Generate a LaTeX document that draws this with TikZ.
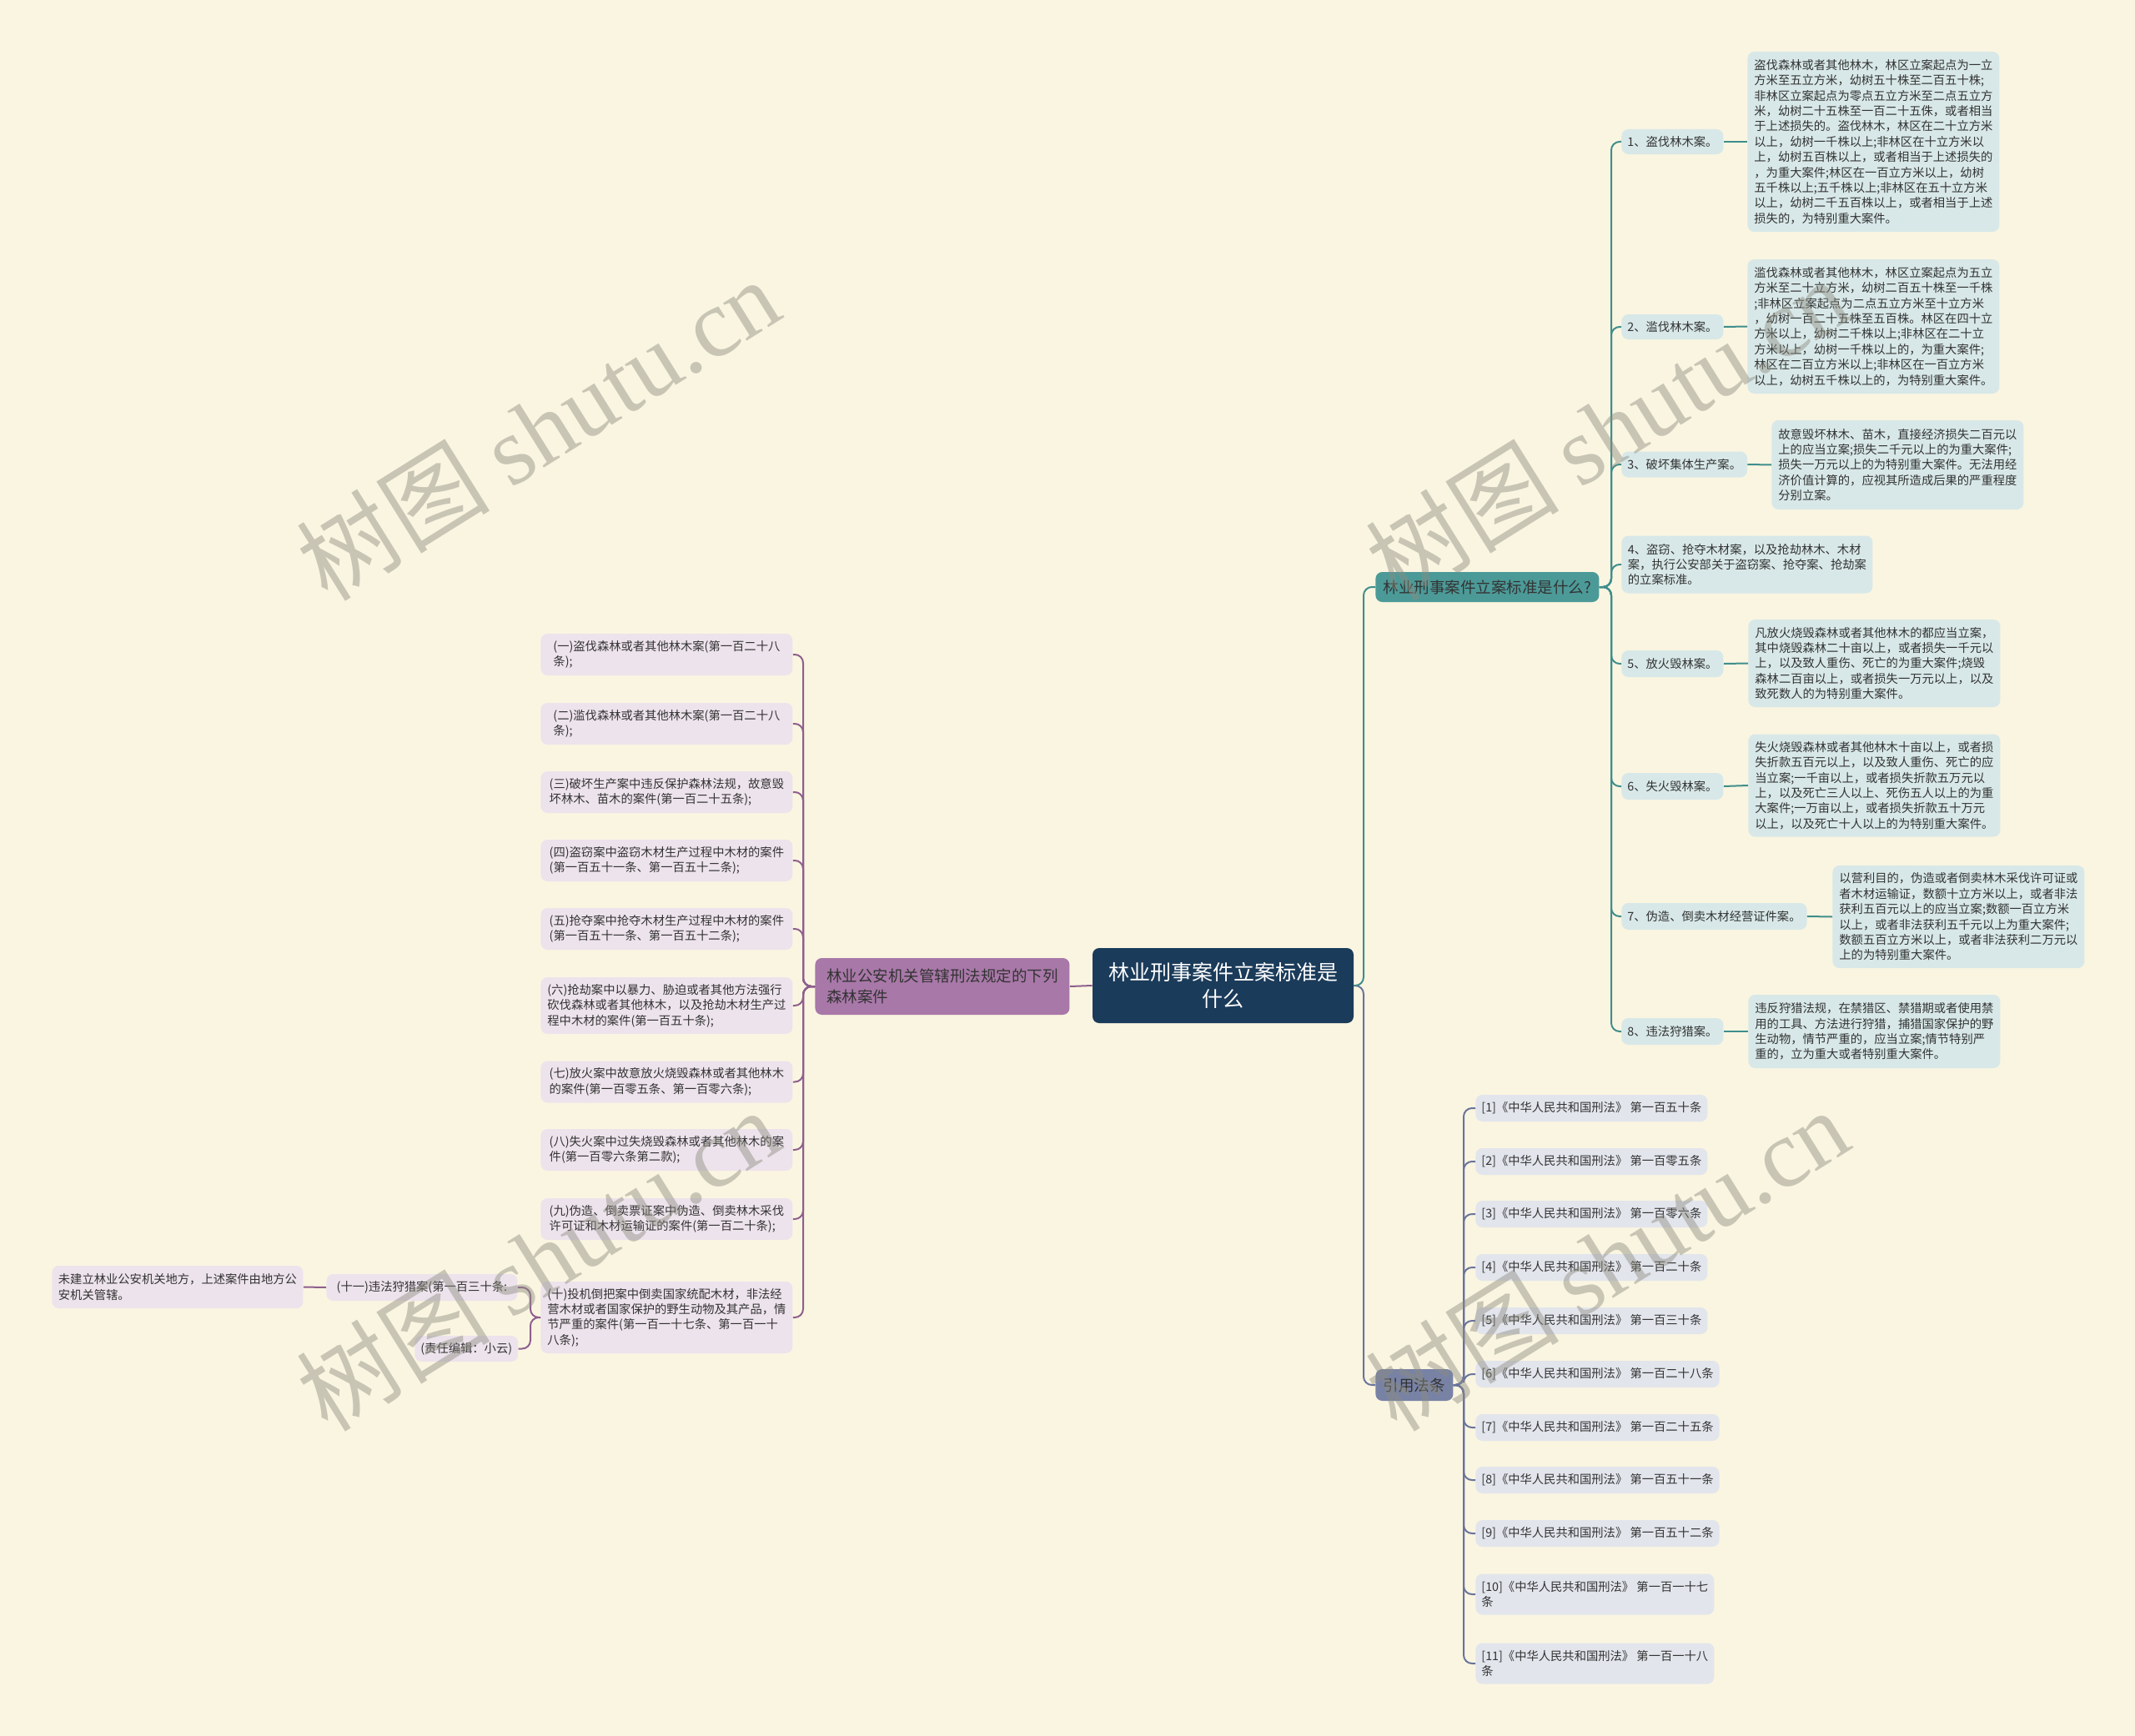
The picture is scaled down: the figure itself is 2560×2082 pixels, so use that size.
\documentclass[tikz,border=0pt]{standalone}
\usepackage{fontspec}
\setmainfont{Noto Sans CJK SC}
\newfontfamily\wmlatin{Liberation Serif}
\definecolor{bgc}{HTML}{FAF5E1}
\definecolor{navy}{HTML}{1B3B5A}
\definecolor{purpbox}{HTML}{A878A8}
\definecolor{tealbox}{HTML}{4C9A98}
\definecolor{slatebox}{HTML}{7882A5}
\definecolor{pleafc}{HTML}{EDE3EC}
\definecolor{tleafc}{HTML}{D8E8E8}
\definecolor{sleafc}{HTML}{E2E5EC}
\definecolor{plinec}{HTML}{8E5F8E}
\definecolor{tlinec}{HTML}{3F8E8C}
\definecolor{slinec}{HTML}{69749C}
\definecolor{txtc}{HTML}{333333}
\definecolor{wmc}{HTML}{8C8C80}
\tikzset{
 boxbase/.style={rounded corners=4pt, anchor=west, inner xsep=3.5pt, inner ysep=0pt, align=left, text=txtc, font=\fontsize{7.15pt}{9.2pt}\selectfont},
 pleaf/.style={boxbase, fill=pleafc},
 tleaf/.style={boxbase, fill=tleafc},
 sleaf/.style={boxbase, fill=sleafc},
 pline/.style={draw=plinec, line width=1pt, rounded corners=5pt},
 tline/.style={draw=tlinec, line width=1pt, rounded corners=5pt},
 sline/.style={draw=slinec, line width=1pt, rounded corners=5pt},
 wmark/.style={rotate=32, text=wmc, opacity=0.45, font=\fontsize{58pt}{60pt}\selectfont},
}
\begin{document}
\begin{tikzpicture}[x=0.5pt,y=-0.5pt]
\fill[bgc] (0,0) rectangle (2560,2082);
\useasboundingbox (0,0) rectangle (2560,2082);

% root
\node[fill=navy, rounded corners=4pt, text=white, align=center, minimum width=156.5pt, minimum height=45pt, inner sep=0pt, font=\fontsize{12.5pt}{16pt}\selectfont] (root) at (1466.5,1182) {林业刑事案件立案标准是\\什么};

% main branches
\node[boxbase, fill=purpbox, inner xsep=5pt, minimum width=152.5pt, minimum height=34pt, font=\fontsize{9.25pt}{12.5pt}\selectfont] (pb) at (977,1183) {林业公安机关管辖刑法规定的下列\\森林案件};
\node[boxbase, fill=tealbox, minimum width=134pt, minimum height=18pt, font=\fontsize{9.25pt}{11pt}\selectfont] (tb) at (1649,704) {林业刑事案件立案标准是什么?};
\node[boxbase, fill=slatebox, minimum width=46.5pt, minimum height=19pt, font=\fontsize{9.25pt}{11pt}\selectfont] (sb) at (1649,1661) {引用法条};

% right labels
\node[tleaf, minimum height=15pt] (l1) at (1944,170) {1、盗伐林木案。};
\node[tleaf, minimum height=15pt] (l2) at (1944,392) {2、滥伐林木案。};
\node[tleaf, minimum height=15.5pt] (l3) at (1944,557) {3、破坏集体生产案。};
\node[tleaf, minimum height=34.5pt, minimum width=150.5pt] (l4) at (1944,677) {4、盗窃、抢夺木材案，以及抢劫林木、木材\\案，执行公安部关于盗窃案、抢夺案、抢劫案\\的立案标准。};
\node[tleaf, minimum height=16pt] (l5) at (1944,796) {5、放火毁林案。};
\node[tleaf, minimum height=16pt] (l6) at (1944,943) {6、失火毁林案。};
\node[tleaf, minimum height=16pt] (l7) at (1944,1099) {7、伪造、倒卖木材经营证件案。};
\node[tleaf, minimum height=16pt] (l8) at (1944,1237) {8、违法狩猎案。};

% right details
\node[tleaf, minimum width=151pt, minimum height=108pt] (d1) at (2095,170) {盗伐森林或者其他林木，林区立案起点为一立\\方米至五立方米，幼树五十株至二百五十株;\\非林区立案起点为零点五立方米至二点五立方\\米，幼树二十五株至一百二十五侏，或者相当\\于上述损失的。盗伐林木，林区在二十立方米\\以上，幼树一千株以上;非林区在十立方米以\\上，幼树五百株以上，或者相当于上述损失的\\，为重大案件;林区在一百立方米以上，幼树\\五千株以上;五千株以上;非林区在五十立方米\\以上，幼树二千五百株以上，或者相当于上述\\损失的，为特别重大案件。};
\node[tleaf, minimum width=151pt, minimum height=80.5pt] (d2) at (2095,391.5) {滥伐森林或者其他林木，林区立案起点为五立\\方米至二十立方米，幼树二百五十株至一千株\\;非林区立案起点为二点五立方米至十立方米\\，幼树一百二十五株至五百株。林区在四十立\\方米以上，幼树二千株以上;非林区在二十立\\方米以上，幼树一千株以上的，为重大案件;\\林区在二百立方米以上;非林区在一百立方米\\以上，幼树五千株以上的，为特别重大案件。};
\node[tleaf, minimum width=151pt, minimum height=53.5pt] (d3) at (2124,557.5) {故意毁坏林木、苗木，直接经济损失二百元以\\上的应当立案;损失二千元以上的为重大案件;\\损失一万元以上的为特别重大案件。无法用经\\济价值计算的，应视其所造成后果的严重程度\\分别立案。};
\node[tleaf, minimum width=151pt, minimum height=52.5pt] (d5) at (2096,795.5) {凡放火烧毁森林或者其他林木的都应当立案，\\其中烧毁森林二十亩以上，或者损失一千元以\\上，以及致人重伤、死亡的为重大案件;烧毁\\森林二百亩以上，或者损失一万元以上，以及\\致死数人的为特别重大案件。};
\node[tleaf, minimum width=151pt, minimum height=61.5pt] (d6) at (2096,942) {失火烧毁森林或者其他林木十亩以上，或者损\\失折款五百元以上，以及致人重伤、死亡的应\\当立案;一千亩以上，或者损失折款五万元以\\上，以及死亡三人以上、死伤五人以上的为重\\大案件;一万亩以上，或者损失折款五十万元\\以上，以及死亡十人以上的为特别重大案件。};
\node[tleaf, minimum width=151pt, minimum height=61.5pt] (d7) at (2197,1099.5) {以营利目的，伪造或者倒卖林木采伐许可证或\\者木材运输证，数额十立方米以上，或者非法\\获利五百元以上的应当立案;数额一百立方米\\以上，或者非法获利五千元以上为重大案件;\\数额五百立方米以上，或者非法获利二万元以\\上的为特别重大案件。};
\node[tleaf, minimum width=151pt, minimum height=44pt] (d8) at (2096,1237) {违反狩猎法规，在禁猎区、禁猎期或者使用禁\\用的工具、方法进行狩猎，捕猎国家保护的野\\生动物，情节严重的，应当立案;情节特别严\\重的，立为重大或者特别重大案件。};

% left leaves
\node[pleaf, minimum width=151pt, minimum height=25pt] (p1) at (648,785) {(一)盗伐森林或者其他林木案(第一百二十八\\条);};
\node[pleaf, minimum width=151pt, minimum height=25pt] (p2) at (648,868) {(二)滥伐森林或者其他林木案(第一百二十八\\条);};
\node[pleaf, minimum width=151pt, minimum height=25pt] (p3) at (648,950) {(三)破坏生产案中违反保护森林法规，故意毁\\坏林木、苗木的案件(第一百二十五条);};
\node[pleaf, minimum width=151pt, minimum height=25pt] (p4) at (648,1032) {(四)盗窃案中盗窃木材生产过程中木材的案件\\(第一百五十一条、第一百五十二条);};
\node[pleaf, minimum width=151pt, minimum height=25pt] (p5) at (648,1114) {(五)抢夺案中抢夺木材生产过程中木材的案件\\(第一百五十一条、第一百五十二条);};
\node[pleaf, minimum width=151pt, minimum height=34pt] (p6) at (648,1206) {(六)抢劫案中以暴力、胁迫或者其他方法强行\\砍伐森林或者其他林木，以及抢劫木材生产过\\程中木材的案件(第一百五十条);};
\node[pleaf, minimum width=151pt, minimum height=25pt] (p7) at (648,1297.5) {(七)放火案中故意放火烧毁森林或者其他林木\\的案件(第一百零五条、第一百零六条);};
\node[pleaf, minimum width=151pt, minimum height=25pt] (p8) at (648,1379) {(八)失火案中过失烧毁森林或者其他林木的案\\件(第一百零六条第二款);};
\node[pleaf, minimum width=151pt, minimum height=25pt] (p9) at (648,1462) {(九)伪造、倒卖票证案中伪造、倒卖林木采伐\\许可证和木材运输证的案件(第一百二十条);};
\node[pleaf, minimum width=151pt, minimum height=43pt] (p10) at (648,1580) {(十)投机倒把案中倒卖国家统配木材，非法经\\营木材或者国家保护的野生动物及其产品，情\\节严重的案件(第一百一十七条、第一百一十\\八条);};
\node[pleaf, minimum width=114.5pt, minimum height=16pt] (p11) at (391,1544) {(十一)违法狩猎案(第一百三十条:};
\node[pleaf, minimum width=61.5pt, minimum height=15.5pt] (pe) at (497,1617.5) {(责任编辑：小云)};
\node[pleaf, minimum width=150.5pt, minimum height=25.5pt] (pw) at (62,1543.5) {未建立林业公安机关地方，上述案件由地方公\\安机关管辖。};

% references
\node[sleaf, minimum height=16pt] (r1) at (1769,1329) {[1]《中华人民共和国刑法》 第一百五十条};
\node[sleaf, minimum height=16pt] (r2) at (1769,1393) {[2]《中华人民共和国刑法》 第一百零五条};
\node[sleaf, minimum height=16pt] (r3) at (1769,1456) {[3]《中华人民共和国刑法》 第一百零六条};
\node[sleaf, minimum height=16pt] (r4) at (1769,1520) {[4]《中华人民共和国刑法》 第一百二十条};
\node[sleaf, minimum height=16pt] (r5) at (1769,1584) {[5]《中华人民共和国刑法》 第一百三十条};
\node[sleaf, minimum height=16pt] (r6) at (1769,1648) {[6]《中华人民共和国刑法》 第一百二十八条};
\node[sleaf, minimum height=16pt] (r7) at (1769,1712) {[7]《中华人民共和国刑法》 第一百二十五条};
\node[sleaf, minimum height=16pt] (r8) at (1769,1775) {[8]《中华人民共和国刑法》 第一百五十一条};
\node[sleaf, minimum height=16pt] (r9) at (1769,1839) {[9]《中华人民共和国刑法》 第一百五十二条};
\node[sleaf, minimum height=24.5pt] (r10) at (1769,1912) {[10]《中华人民共和国刑法》 第一百一十七\\条};
\node[sleaf, minimum height=24.5pt] (r11) at (1769,1995) {[11]《中华人民共和国刑法》 第一百一十八\\条};

% trunk points
\coordinate (tr) at (1635,1182);
\coordinate (tp) at (963,1183);
\coordinate (tp2) at (636,1580);
\coordinate (tt) at (1932,704);
\coordinate (ts) at (1755,1661);

% connectors
\draw[sline] (root.east) -- (tr) |- (sb.west);
\draw[tline] (root.east) -- (tr) |- (tb.west);
\draw[pline] (root.west) -- (pb.east);
\foreach \n in {1,...,10} \draw[pline] (pb.west) -- (tp) |- (p\n.east);
\draw[pline] (p10.west) -- (tp2) |- (p11.east);
\draw[pline] (p10.west) -- (tp2) |- (pe.east);
\draw[pline] (p11.west) -- (pw.east);
\foreach \n in {1,...,8} \draw[tline] (tb.east) -- (tt) |- (l\n.west);
\foreach \a/\b in {l1/d1,l2/d2,l3/d3,l5/d5,l6/d6,l7/d7,l8/d8} \draw[tline] (\a.east) -- (\b.west);
\foreach \n in {1,...,11} \draw[sline] (sb.east) -- (ts) |- (r\n.west);

% watermarks
\node[wmark] (wm1) at (645,514) {树图 {\wmlatin shutu.cn}};
\node[wmark] (wm2) at (1927,514) {树图 {\wmlatin shutu.cn}};
\node[wmark] (wm3) at (645,1510) {树图 {\wmlatin shutu.cn}};
\node[wmark] (wm4) at (1927,1510) {树图 {\wmlatin shutu.cn}};
\end{tikzpicture}
\end{document}
